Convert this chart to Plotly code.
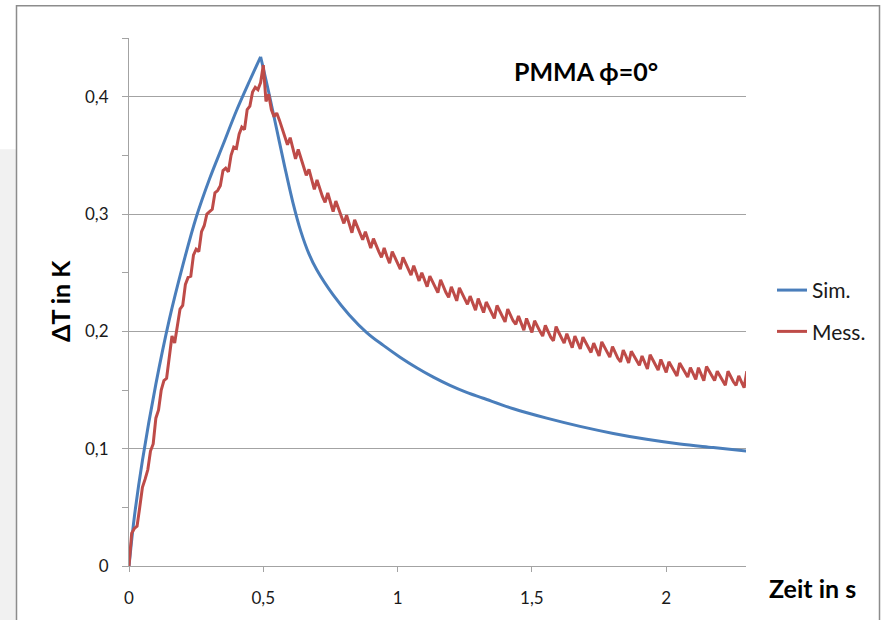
import plotly.graph_objects as go

# ---------------- data ----------------
# simulation, heating phase (0 .. 0.49 s) and cooling phase (0.49 .. 2.30 s)
sim_rise_t = [0, 0.02, 0.05, 0.10, 0.15, 0.20, 0.25, 0.30, 0.35, 0.40, 0.45, 0.49]
sim_rise_v = [0, 0.042, 0.090, 0.155, 0.210, 0.256, 0.297, 0.330, 0.359, 0.388, 0.414, 0.434]
sim_fall_t = [0.49, 0.52, 0.55, 0.58, 0.61, 0.64, 0.67, 0.70, 0.76, 0.82, 0.885, 0.947,
              1.009, 1.071, 1.133, 1.195, 1.257, 1.319, 1.431, 1.555, 1.679, 1.803,
              1.927, 2.051, 2.175, 2.30]
sim_fall_v = [0.434, 0.404, 0.372, 0.340, 0.310, 0.285, 0.266, 0.252, 0.231, 0.214, 0.199, 0.188,
              0.178, 0.169, 0.161, 0.154, 0.148, 0.143, 0.134, 0.126, 0.119, 0.113,
              0.108, 0.104, 0.101, 0.098]

# measurement sampled every 0.01 s from 0 to 2.30 s
mess_t = [round(i * 0.01, 2) for i in range(231)]
mess_v = [
    0.000, 0.028, 0.032, 0.034, 0.050, 0.067, 0.074, 0.082, 0.098, 0.104,
    0.126, 0.133, 0.150, 0.158, 0.160, 0.178, 0.196, 0.190, 0.205, 0.219,
    0.222, 0.240, 0.246, 0.247, 0.265, 0.270, 0.268, 0.285, 0.290, 0.300,
    0.302, 0.304, 0.318, 0.320, 0.324, 0.337, 0.339, 0.336, 0.350, 0.357,
    0.356, 0.368, 0.374, 0.372, 0.389, 0.392, 0.404, 0.408, 0.406, 0.412,
    0.427, 0.396, 0.402, 0.389, 0.383, 0.386, 0.380, 0.373, 0.365, 0.359,
    0.365, 0.356, 0.347, 0.355, 0.347, 0.339, 0.333, 0.338, 0.329, 0.321,
    0.329, 0.322, 0.315, 0.310, 0.318, 0.310, 0.302, 0.311, 0.304, 0.298,
    0.292, 0.299, 0.292, 0.284, 0.295, 0.289, 0.283, 0.278, 0.285, 0.278,
    0.271, 0.279, 0.273, 0.268, 0.263, 0.271, 0.264, 0.258, 0.268, 0.263,
    0.257, 0.253, 0.263, 0.258, 0.252, 0.248, 0.256, 0.249, 0.243, 0.250,
    0.244, 0.238, 0.247, 0.242, 0.237, 0.233, 0.244, 0.238, 0.233, 0.229,
    0.238, 0.232, 0.226, 0.237, 0.232, 0.227, 0.223, 0.230, 0.224, 0.218,
    0.228, 0.222, 0.216, 0.225, 0.220, 0.215, 0.211, 0.222, 0.217, 0.212,
    0.208, 0.219, 0.214, 0.209, 0.206, 0.213, 0.207, 0.201, 0.211, 0.205,
    0.199, 0.209, 0.204, 0.200, 0.196, 0.205, 0.200, 0.195, 0.192, 0.204,
    0.199, 0.194, 0.190, 0.198, 0.192, 0.186, 0.196, 0.191, 0.185, 0.195,
    0.191, 0.186, 0.182, 0.190, 0.185, 0.179, 0.191, 0.187, 0.182, 0.178,
    0.187, 0.182, 0.177, 0.174, 0.184, 0.179, 0.173, 0.183, 0.179, 0.174,
    0.171, 0.179, 0.173, 0.168, 0.180, 0.176, 0.171, 0.167, 0.176, 0.170,
    0.165, 0.174, 0.170, 0.165, 0.162, 0.173, 0.169, 0.164, 0.161, 0.169,
    0.164, 0.159, 0.169, 0.164, 0.158, 0.170, 0.166, 0.161, 0.158, 0.166,
    0.162, 0.158, 0.154, 0.166, 0.161, 0.157, 0.154, 0.162, 0.157, 0.152,
    0.166,
]

series_names = ["Sim.", "Mess."]
title_text = "PMMA ϕ=0°"
x_title = "Zeit in s"
y_title = "ΔT in K"

# ---------------- figure ----------------
W, H = 885, 620
L, R, T, B = 129, 139, 38, 50
pw, ph = W - L - R, H - T - B


def px2paper_x(px):
    return (px - L) / pw


def px2paper_y(py):
    return (H - B - py) / ph


FONT = "Lato, 'Open Sans', sans-serif"
GRID = "#a3a3a3"
BLUE = "#4A7EBB"
RED = "#BE4B48"

fig = go.Figure()
fig.add_trace(go.Scatter(x=sim_rise_t, y=sim_rise_v, mode="lines", name=series_names[0],
                         legendgroup="a", line=dict(color=BLUE, width=3, shape="spline", smoothing=1)))
fig.add_trace(go.Scatter(x=sim_fall_t, y=sim_fall_v, mode="lines", name=series_names[0],
                         legendgroup="a", showlegend=False,
                         line=dict(color=BLUE, width=3, shape="spline", smoothing=1)))
fig.add_trace(go.Scatter(x=mess_t, y=mess_v, mode="lines", name=series_names[1],
                         legendgroup="b", line=dict(color=RED, width=3)))

fig.update_layout(
    width=W, height=H,
    margin=dict(l=L, r=R, t=T, b=B),
    paper_bgcolor="white", plot_bgcolor="white",
    separators=", ",
    font=dict(family=FONT, size=17, color="#1a1a1a"),
    showlegend=True,
    legend=dict(x=px2paper_x(772), y=px2paper_y(313), xanchor="left", yanchor="middle",
                bgcolor="rgba(0,0,0,0)", tracegroupgap=11,
                font=dict(family=FONT, size=21, color="#1a1a1a")),
    shapes=[
        dict(type="rect", xref="paper", yref="paper",
             x0=px2paper_x(0), x1=px2paper_x(16), y0=px2paper_y(625), y1=px2paper_y(150),
             fillcolor="#f1f1f1", line=dict(width=0), layer="below"),
        dict(type="rect", xref="paper", yref="paper",
             x0=px2paper_x(16.5), x1=px2paper_x(879.5), y0=px2paper_y(640), y1=px2paper_y(5.5),
             fillcolor="rgba(0,0,0,0)", line=dict(color="#8c8c8c", width=1.5), layer="below"),
    ],
    annotations=[
        dict(text="<b>%s</b>" % title_text, xref="paper", yref="paper",
             x=px2paper_x(586), y=px2paper_y(71), xanchor="center", yanchor="middle",
             showarrow=False, font=dict(family=FONT, size=25, color="#000")),
        dict(text="<b>%s</b>" % x_title, xref="paper", yref="paper",
             x=px2paper_x(813), y=px2paper_y(592), xanchor="center", yanchor="middle",
             showarrow=False, font=dict(family=FONT, size=25, color="#000")),
        dict(text="<b>%s</b>" % y_title, xref="paper", yref="paper",
             x=px2paper_x(60), y=px2paper_y(303), xanchor="center", yanchor="middle",
             textangle=-90, showarrow=False, font=dict(family=FONT, size=25, color="#000")),
    ],
)

fig.update_xaxes(range=[0, 2.297], dtick=0.5, tick0=0, showgrid=False, zeroline=False,
                 showline=True, linecolor=GRID, linewidth=1,
                 ticks="outside", ticklen=5, tickcolor=GRID, ticklabelstandoff=12,
                 tickfont=dict(family=FONT, size=17, color="#1a1a1a"))
fig.update_yaxes(range=[0, 0.45], dtick=0.1, tick0=0, showgrid=True, gridcolor=GRID,
                 gridwidth=1, zeroline=False, showline=True, linecolor=GRID, linewidth=1,
                 ticks="outside", ticklen=6, tickcolor=GRID, ticklabelstandoff=10,
                 minor=dict(dtick=0.05, tick0=0, ticks="outside", ticklen=6,
                            tickcolor=GRID, showgrid=False),
                 tickfont=dict(family=FONT, size=17, color="#1a1a1a"))

fig.write_html("out.html")
